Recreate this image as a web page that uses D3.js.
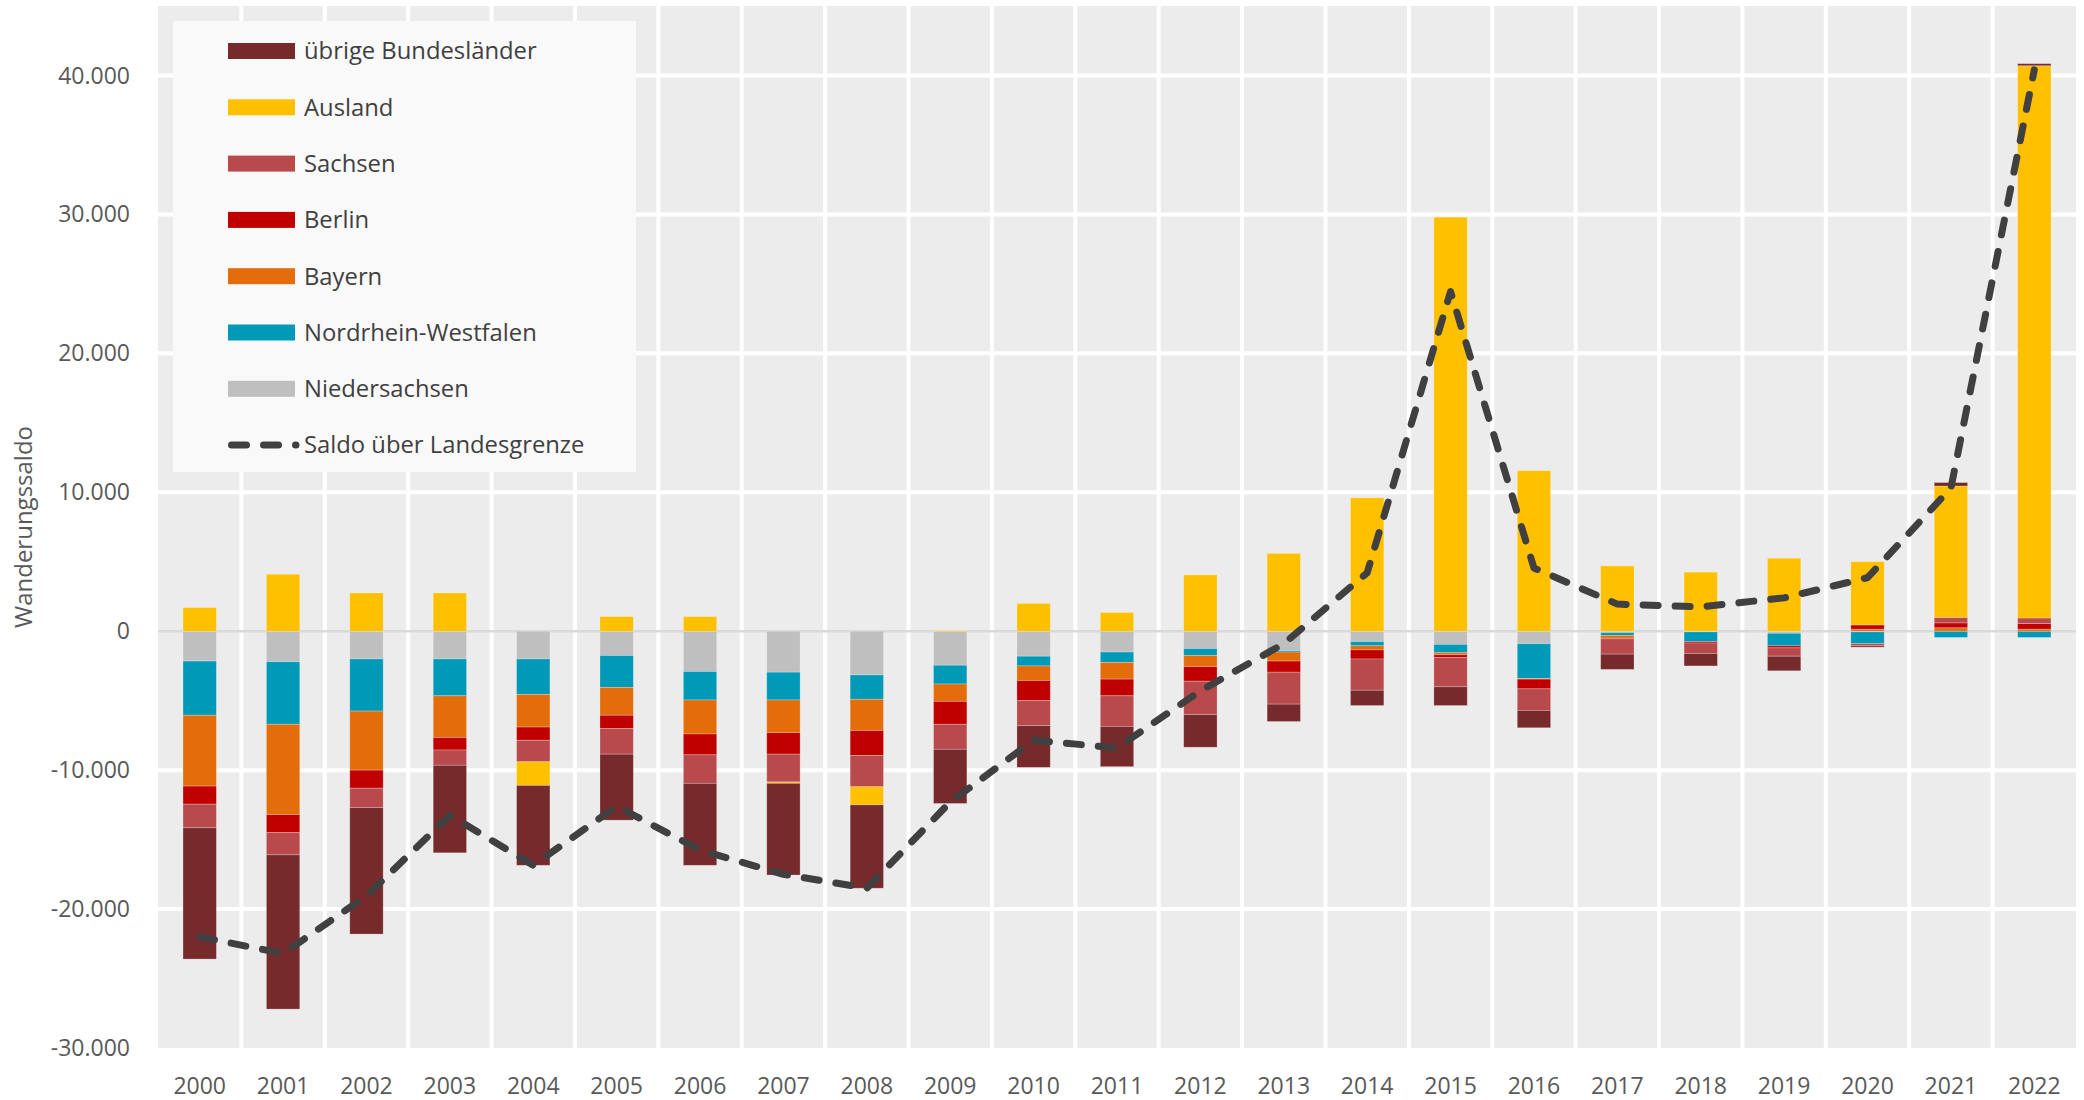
<!DOCTYPE html>
<html>
<head>
<meta charset="utf-8">
<script src="https://cdn.jsdelivr.net/npm/d3@7"></script>
<style>
  body { margin: 0; background: #fff; }
  text { font-family: "Open Sans", "Noto Sans", sans-serif; }
</style>
</head>
<body>
<div id="chart"></div>
<script>
// Dimensions of chart.
const width = 2084;
const height = 1100;
const margin = { top: 6, right: 8, bottom: 52, left: 158 };

// Categories
const years = ["2000", "2001", "2002", "2003", "2004", "2005", "2006", "2007", "2008", "2009", "2010",
  "2011", "2012", "2013", "2014", "2015", "2016", "2017", "2018", "2019", "2020", "2021", "2022"];

// Series values (Wanderungssaldo by origin/destination)
const niedersachsen = [-2150, -2200, -2000, -2000, -2000, -1750, -2900, -2950, -3150, -2450, -1800,
  -1500, -1250, -1400, -750, -950, -900, -100, -50, -150, -50, 0, 0];
const nrw = [-3900, -4500, -3750, -2650, -2550, -2300, -2050, -2000, -1750, -1350, -700,
  -750, -500, -100, -300, -600, -2500, -200, -700, -900, -850, -450, -450];
const bayern = [-5100, -6500, -4250, -3000, -2350, -2000, -2450, -2350, -2250, -1250, -1050,
  -1200, -800, -650, -300, -150, -50, -200, 0, 0, 150, 250, 150];
const berlin = [-1300, -1300, -1300, -900, -950, -950, -1500, -1550, -1800, -1650, -1450,
  -1200, -1050, -800, -650, -200, -700, -50, -100, -150, 300, 350, 400];
const sachsen = [-1700, -1600, -1400, -1100, -1550, -1850, -2050, -2000, -2250, -1800, -1800,
  -2200, -2400, -2300, -2250, -2100, -1550, -1100, -750, -600, -150, 400, 400];
const ausland = [1700, 4100, 2750, 2750, -1700, 1050, 1050, -100, -1300, 50, 2000,
  1350, 4050, 5600, 9600, 29800, 11550, 4700, 4250, 5250, 4550, 9450, 39750];
const uebrige = [-9450, -11100, -9100, -6300, -5750, -4750, -5900, -6600, -6000, -3900, -3000,
  -2900, -2350, -1250, -1100, -1350, -1250, -1100, -900, -1050, -100, 250, 150];
const saldo = [-22000, -23200, -19050, -13250, -16850, -12600, -15750, -17500, -18500, -12300, -7850,
  -8400, -4300, -900, 4200, 24450, 4550, 1950, 1750, 2400, 3850, 10300, 40400];

// Y ticks
const yTicks = [-30000, -20000, -10000, 0, 10000, 20000, 30000, 40000];

// Series meta, in stacking order (from zero outward).
const series = [
  { key: "Niedersachsen", values: niedersachsen, color: "#BFBFBF" },
  { key: "Nordrhein-Westfalen", values: nrw, color: "#009AB8" },
  { key: "Bayern", values: bayern, color: "#E36C0B" },
  { key: "Berlin", values: berlin, color: "#C00000" },
  { key: "Sachsen", values: sachsen, color: "#B94A4C" },
  { key: "Ausland", values: ausland, color: "#FFC000" },
  { key: "übrige Bundesländer", values: uebrige, color: "#772A2B" }
];

// Table for d3.stack.
const table = years.map((y, i) => {
  const row = { year: y };
  series.forEach(s => row[s.key] = s.values[i]);
  return row;
});

const stacked = d3.stack()
  .keys(series.map(s => s.key))
  .offset(d3.stackOffsetDiverging)(table);

const svg = d3.select("#chart").append("svg")
  .attr("width", width)
  .attr("height", height);

const x = d3.scaleBand()
  .domain(years)
  .range([margin.left, width - margin.right]);

const y = d3.scaleLinear()
  .domain([-30000, 45000])
  .range([height - margin.bottom, margin.top]);

const fmt = d3.formatLocale({ decimal: ",", thousands: ".", grouping: [3], currency: ["", "€"], minus: "-" }).format(",");

// Panel background
svg.append("rect")
  .attr("x", margin.left)
  .attr("y", margin.top)
  .attr("width", width - margin.left - margin.right)
  .attr("height", height - margin.top - margin.bottom)
  .attr("fill", "#ECECEC");

// Horizontal grid lines
svg.append("g")
  .selectAll("line")
  .data(yTicks.filter(d => d !== 0 && d !== -30000))
  .join("line")
  .attr("x1", margin.left)
  .attr("x2", width - margin.right)
  .attr("y1", d => y(d))
  .attr("y2", d => y(d))
  .attr("stroke", "#fff")
  .attr("stroke-width", 4);

// Vertical grid lines between categories
svg.append("g")
  .selectAll("line")
  .data(years.slice(1))
  .join("line")
  .attr("x1", d => x(d))
  .attr("x2", d => x(d))
  .attr("y1", margin.top)
  .attr("y2", height - margin.bottom)
  .attr("stroke", "#fff")
  .attr("stroke-width", 4);

// Zero line
svg.append("line")
  .attr("x1", margin.left)
  .attr("x2", width - margin.right)
  .attr("y1", y(0))
  .attr("y2", y(0))
  .attr("stroke", "#D9D9D9")
  .attr("stroke-width", 2.5);

// Y axis labels
svg.append("g")
  .selectAll("text")
  .data(yTicks)
  .join("text")
  .attr("x", 130)
  .attr("y", d => y(d))
  .attr("dy", "0.35em")
  .attr("text-anchor", "end")
  .attr("fill", "#595959")
  .attr("font-size", 23)
  .text(d => fmt(d));

// X axis labels
svg.append("g")
  .selectAll("text")
  .data(years)
  .join("text")
  .attr("x", d => x(d) + x.bandwidth() / 2)
  .attr("y", 1086)
  .attr("dy", "0.35em")
  .attr("text-anchor", "middle")
  .attr("fill", "#595959")
  .attr("font-size", 23)
  .text(d => d);

// Y axis title
svg.append("text")
  .attr("transform", `translate(24,${(margin.top + height - margin.bottom) / 2}) rotate(-90)`)
  .attr("text-anchor", "middle")
  .attr("dy", "0.35em")
  .attr("fill", "#595959")
  .attr("font-size", 24)
  .text("Wanderungssaldo");

// Legend
const legend = svg.append("g");
legend.append("rect")
  .attr("x", 173)
  .attr("y", 21)
  .attr("width", 463)
  .attr("height", 451)
  .attr("fill", "#F9F9F9");

const legendItems = series.slice().reverse();
const legendStep = 56.3;
legendItems.forEach((s, i) => {
  const cy = 51 + i * legendStep;
  legend.append("rect")
    .attr("x", 228)
    .attr("y", cy - 8)
    .attr("width", 67)
    .attr("height", 16)
    .attr("fill", s.color);
  legend.append("text")
    .attr("x", 304)
    .attr("y", cy)
    .attr("dy", "0.35em")
    .attr("fill", "#404040")
    .attr("font-size", 23.8)
    .text(s.key);
});
const lineY = 51 + legendItems.length * legendStep;
legend.append("line")
  .attr("x1", 231.5)
  .attr("x2", 296)
  .attr("y1", lineY)
  .attr("y2", lineY)
  .attr("stroke", "#404040")
  .attr("stroke-width", 7)
  .attr("stroke-linecap", "round")
  .attr("stroke-dasharray", "15,17");
legend.append("text")
  .attr("x", 304)
  .attr("y", lineY)
  .attr("dy", "0.35em")
  .attr("fill", "#404040")
  .attr("font-size", 23.8)
  .text("Saldo über Landesgrenze");

// Bars
const barW = x.bandwidth() * 0.4;
svg.append("g")
  .selectAll("g")
  .data(stacked)
  .join("g")
  .attr("fill", (d, i) => series[i].color)
  .selectAll("rect")
  .data(d => d)
  .join("rect")
  .attr("x", d => x(d.data.year) + (x.bandwidth() - barW) / 2)
  .attr("y", d => y(Math.max(d[0], d[1])))
  .attr("height", d => Math.abs(y(d[0]) - y(d[1])))
  .attr("width", barW)
  .attr("stroke", "rgba(255,255,255,0.3)")
  .attr("stroke-width", 0.8);

// Saldo line
const line = d3.line()
  .x((d, i) => x(years[i]) + x.bandwidth() / 2)
  .y(d => y(d));

svg.append("path")
  .datum(saldo)
  .attr("d", line)
  .attr("fill", "none")
  .attr("stroke", "#404040")
  .attr("stroke-width", 7)
  .attr("stroke-linecap", "round")
  .attr("stroke-linejoin", "round")
  .attr("stroke-dasharray", "15,17");
</script>
</body>
</html>
